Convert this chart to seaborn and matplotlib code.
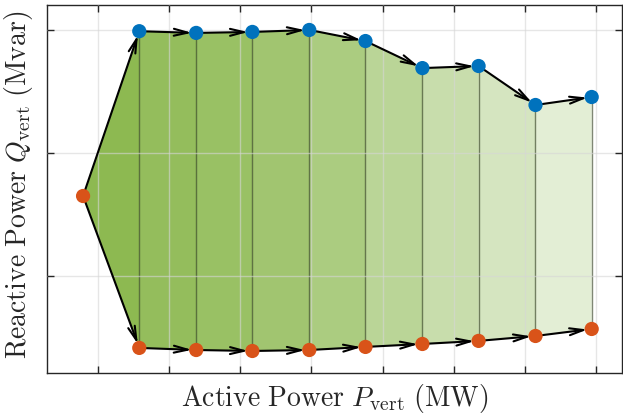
import numpy as np
import pandas as pd
import matplotlib
matplotlib.use("Agg")
import matplotlib.pyplot as plt
import seaborn as sns

# ---- data ----
p_start = [0.79]
q_start = [1.65]
p_vert = [1.58, 2.38, 3.17, 3.97, 4.76, 5.56, 6.35, 7.15, 7.94]
q_upper = [2.99, 2.976, 2.984, 3.0, 2.91, 2.69, 2.707, 2.39, 2.455]
q_lower = [0.415, 0.398, 0.39, 0.398, 0.423, 0.447, 0.472, 0.512, 0.569]
x_ticks = [1, 2, 3, 4, 5, 6, 7, 8]
y_ticks = [1, 2, 3]
fill_alpha = [0.84, 0.79, 0.75, 0.69, 0.61, 0.50, 0.40, 0.30, 0.20]

sns.set_theme(style="whitegrid")
plt.rcParams["mathtext.fontset"] = "cm"
plt.rcParams["font.family"] = ["DejaVu Serif"]

fig = plt.figure(figsize=(6.23, 4.17), dpi=100)
ax = fig.add_axes([47 / 623, 44 / 417, 575 / 623, 368 / 417])

green = "#77AC30"
blue = "#0072BD"
orange = "#D95319"

# fill regions
xs_all = p_start + p_vert
top_all = q_start + q_upper
bot_all = q_start + q_lower
for k in range(len(xs_all) - 1):
    if k == 0:
        px = [xs_all[0], xs_all[1], xs_all[1]]
        py = [q_start[0], q_lower[0], q_upper[0]]
    else:
        px = [xs_all[k], xs_all[k + 1], xs_all[k + 1], xs_all[k]]
        py = [bot_all[k], bot_all[k + 1], top_all[k + 1], top_all[k]]
    ax.fill(px, py, color=green, alpha=fill_alpha[k], lw=0, zorder=1)

# vertical edges
for x, lo, hi in zip(p_vert, q_lower, q_upper):
    ax.plot([x, x], [lo, hi], color="#2a3818", alpha=0.6, lw=1.0, zorder=1.5)

# arrows
def arrow(x0, y0, x1, y1):
    ax.annotate("", xy=(x1, y1), xytext=(x0, y0),
                arrowprops=dict(arrowstyle="->,head_length=1.0,head_width=0.25",
                                color="black", lw=1.5, shrinkA=0, shrinkB=3,
                                mutation_scale=10),
                zorder=3)

for k in range(len(xs_all) - 1):
    arrow(xs_all[k], top_all[k], xs_all[k + 1], top_all[k + 1])
    arrow(xs_all[k], bot_all[k], xs_all[k + 1], bot_all[k + 1])

# markers
df_up = pd.DataFrame({"P": p_vert, "Q": q_upper})
df_lo = pd.DataFrame({"P": p_start + p_vert, "Q": q_start + q_lower})
sns.scatterplot(data=df_lo, x="P", y="Q", color=orange, s=105, edgecolor="none",
                ax=ax, zorder=4)
sns.scatterplot(data=df_up, x="P", y="Q", color=blue, s=105, edgecolor="none",
                ax=ax, zorder=4)

ax.set_xlim(0.283, 8.366)
ax.set_ylim(0.211, 3.203)
ax.set_xticks(x_ticks)
ax.set_yticks(y_ticks)
ax.set_xticklabels([])
ax.set_yticklabels([])
ax.set_axisbelow(False)
ax.grid(True, color="#d6d6d6", alpha=0.6, lw=1.0)
ax.set_facecolor("white")
for s in ax.spines.values():
    s.set_visible(True)
    s.set_color("#262626")
    s.set_linewidth(1.0)
ax.tick_params(direction="in", length=5, width=1, color="#262626",
               top=True, right=True, bottom=True, left=True)

ax.set_xlabel(r"$\mathrm{Active\ Power}\ P_{\mathrm{vert}}\ \mathrm{(MW)}$", fontsize=20,
              color="#262626")
ax.set_ylabel(r"$\mathrm{Reactive\ Power}\ Q_{\mathrm{vert}}\ \mathrm{(Mvar)}$", fontsize=20,
              color="#262626")
ax.xaxis.label.set_va("center")
ax.yaxis.label.set_va("center")
ax.xaxis.set_label_coords(0.5, -0.068)
ax.yaxis.set_label_coords(-0.05, 0.51)

fig.savefig("out.png", dpi=100)
